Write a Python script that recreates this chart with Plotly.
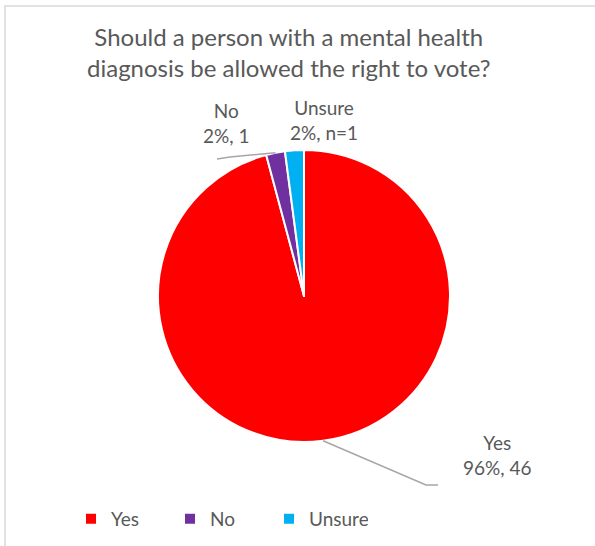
import math
import plotly.graph_objects as go

# Survey responses
categories = ["Yes", "No", "Unsure"]
counts = [46, 1, 1]
label_texts = ["Yes<br>96%, 46", "No<br>2%, 1", "Unsure<br>2%, n=1"]
colors = ["#FF0000", "#7030A0", "#00B0F0"]

W, H = 595, 546
FONT = "Lato, 'Open Sans', sans-serif"
GREY_TEXT = "#595959"

# Pie placement in pixels
cx, cy, r = 304, 296, 146

# Label anchor points (pixels) and leader-line elbows (None = no leader)
label_pos = {"Yes": (497, 455), "No": (226, 123), "Unsure": (324, 120)}
leader_elbow = {"Yes": [(426, 485), (438, 485)], "No": [(230, 157), (217, 159)], "Unsure": None}


def px(x):
    return x / W


def py(y):
    return 1 - y / H


fig = go.Figure(
    go.Pie(
        labels=categories,
        values=counts,
        sort=False,
        direction="clockwise",
        rotation=0,
        marker=dict(colors=colors, line=dict(color="white", width=2)),
        textinfo="none",
        hoverinfo="label+value+percent",
        domain=dict(x=[px(cx - r), px(cx + r)], y=[py(cy + r), py(cy - r)]),
    )
)

# Leader lines from each slice's mid-angle on the rim
total = sum(counts)
shapes = []
start = 0.0
for cat, v in zip(categories, counts):
    span = 360.0 * v / total
    mid = math.radians(start + span / 2)
    start += span
    elbow = leader_elbow[cat]
    if not elbow:
        continue
    pts = [(cx + r * math.sin(mid), cy - r * math.cos(mid))] + elbow
    path = "M " + " L ".join(f"{px(x)},{py(y)}" for x, y in pts)
    shapes.append(dict(type="path", xref="paper", yref="paper", path=path,
                       line=dict(color="#A6A6A6", width=1.5)))

# Chart-area frame
shapes.append(dict(type="rect", xref="paper", yref="paper",
                   x0=px(5), x1=px(W + 10), y0=py(H + 10), y1=py(6),
                   line=dict(color="#D9D9D9", width=1.5), fillcolor="rgba(0,0,0,0)"))

annotations = []
for cat, txt in zip(categories, label_texts):
    x, y = label_pos[cat]
    annotations.append(dict(text=txt, x=px(x), y=py(y), xref="paper", yref="paper",
                            showarrow=False, xanchor="center", yanchor="middle", align="center",
                            font=dict(family=FONT, size=19, color=GREY_TEXT)))

annotations.append(dict(text="Should a person with a mental health<br>diagnosis be allowed the right to vote?",
                        x=px(288), y=py(52), xref="paper", yref="paper", showarrow=False,
                        xanchor="center", yanchor="middle", align="center",
                        font=dict(family=FONT, size=24, color=GREY_TEXT)))

fig.update_layout(
    width=W, height=H,
    margin=dict(l=0, r=0, t=0, b=0),
    paper_bgcolor="white",
    plot_bgcolor="white",
    shapes=shapes,
    annotations=annotations,
    showlegend=True,
    legend=dict(orientation="h", x=px(71), y=py(519), xanchor="left", yanchor="middle",
                font=dict(family=FONT, size=19, color=GREY_TEXT), itemwidth=30,
                entrywidth=54, entrywidthmode="pixels", tracegroupgap=0),
)

fig.write_html("out.html")
